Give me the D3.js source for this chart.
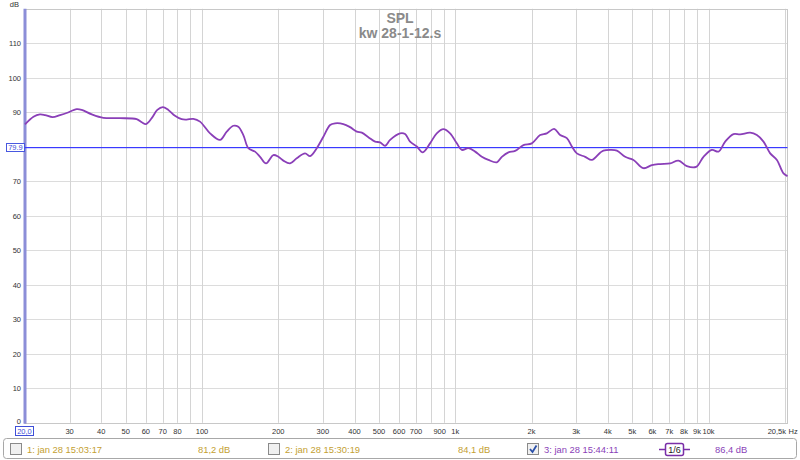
<!DOCTYPE html>
<html><head><meta charset="utf-8">
<script src="https://cdn.jsdelivr.net/npm/d3@7"></script>
<style>body{margin:0;background:#fff}svg{display:block;font-family:"Liberation Sans",Arial,sans-serif}</style>
</head><body><svg id="c" width="800" height="460"></svg>
<script>
const freqs = [20,21.6,22.9,24.0,25.7,27.5,29.2,32.0,33.5,36.7,40.8,47.4,55.2,57.8,60.1,63.3,66.6,70.0,73.6,78.2,83.1,87.0,92.4,98.2,107.6,117.8,125.2,132.9,139.1,145.6,152.4,161.9,169.5,179.0,191.3,200.2,209.4,222.6,236.6,255.2,267.2,283.8,301.4,320.4,335.2,361.4,384.2,408.4,427.4,453.8,482.4,504.8,528.4,553,605.4,633.6,663,704.8,744.2,795,845,898,954,1014,1061,1127,1198,1273,1351,1459,1527,1621,1723,1858,2006,2163,2298,2456,2594,2757,2886,3020,3256,3462,3733,3846,4088,4346,4686,5054,5534,5974,6442,7054,7608,8212,8936,9550,10308,10942,11632,12546,13336,14602,15518,16480,17514,18618,19766,20500];
const spl = [86.5,88.7,89.4,89.2,88.6,89.2,89.8,90.9,90.7,89.4,88.4,88.3,88.0,87.1,86.6,88.3,90.7,91.5,90.7,89.0,88.0,87.9,88.1,87.3,83.9,82.0,84.4,86.1,85.8,83.4,79.6,78.6,77.1,75.2,77.6,77.1,76.0,75.2,76.7,78.1,77.3,79.6,82.9,86.3,86.8,86.6,85.7,84.4,84.1,82.8,81.5,81.3,80.3,82.0,83.9,83.7,81.5,80.1,78.4,81.0,83.9,85.1,83.9,81.0,79.1,79.6,78.6,77.1,76.2,75.5,77.1,78.4,78.8,80.5,81.0,83.4,83.9,85.2,83.4,82.5,80.1,78.1,77.1,76.2,78.3,78.9,79.1,78.9,77.1,76.2,73.8,74.7,75.0,75.2,76.0,74.4,74.2,77.1,79.1,78.6,81.5,83.7,83.6,84.1,83.4,81.5,78.1,76.2,72.3,71.5];
const yTicks = [10,20,30,40,50,60,70,80,90,100,110];
const yLabels = [10,20,30,40,50,60,70,90,100,110];
const xGrid = [30,40,50,60,70,80,90,100,200,300,400,500,600,700,800,900,1000,2000,3000,4000,5000,6000,7000,8000,9000,10000,20000];
const xLabels = [[30,"30"],[40,"40"],[50,"50"],[60,"60"],[70,"70"],[80,"80"],[100,"100"],[200,"200"],[300,"300"],[400,"400"],[500,"500"],[600,"600"],[700,"700"],[900,"900"],[1000,"1k"],[2000,"2k"],[3000,"3k"],[4000,"4k"],[5000,"5k"],[6000,"6k"],[7000,"7k"],[8000,"8k"],[9000,"9k"],[10000,"10k"]];
const refLevel = 79.9, refLabel = "79.9";
const titles = ["SPL","kw 28-1-12.s"];
const legendItems = [
  {label:"1: jan 28 15:03:17", level:"81,2 dB", checked:false, color:"#c4a032"},
  {label:"2: jan 28 15:30:19", level:"84,1 dB", checked:false, color:"#c4a032"},
  {label:"3: jan 28 15:44:11", level:"86,4 dB", checked:true, color:"#8a3fb8"}
];

const svg = d3.select("#c");
const L=25, R=787.5, T=8.8, B=422.8;
const x = d3.scaleLog().domain([20,20500]).range([L,R]);
const y = d3.scaleLinear().domain([0,120]).range([B,T]);
const FS = 7.5;

// grid
svg.append("g").selectAll("line").data(yTicks).join("line")
  .attr("x1",L).attr("x2",R).attr("y1",d=>Math.round(y(d))+0.5).attr("y2",d=>Math.round(y(d))+0.5)
  .attr("stroke","#dcdcdc").attr("stroke-width",1);
svg.append("g").selectAll("line").data(xGrid).join("line")
  .attr("x1",d=>Math.round(x(d))+0.5).attr("x2",d=>Math.round(x(d))+0.5).attr("y1",T).attr("y2",B)
  .attr("stroke","#d4d4d4").attr("stroke-width",1);
// frame
svg.append("rect").attr("x",L).attr("y",Math.round(T)+0.5).attr("width",R-L).attr("height",Math.round(B)-Math.round(T))
  .attr("fill","none").attr("stroke","#c8c8c8");
svg.append("line").attr("x1",L).attr("x2",L).attr("y1",T).attr("y2",B+1)
  .attr("stroke","#8c8ed8").attr("stroke-width",3);

// y labels
svg.append("g").selectAll("text").data(yLabels).join("text")
  .attr("x",21).attr("y",d=>y(d)+3).attr("text-anchor","end")
  .attr("font-size",FS).attr("fill","#333").text(d=>d);
svg.append("text").attr("x",21).attr("y",B+1).attr("text-anchor","end").attr("font-size",FS).attr("fill","#333").text("0");
svg.append("text").attr("x",19).attr("y",7).attr("text-anchor","end").attr("font-size",FS).attr("fill","#333").text("dB");

// x labels
svg.append("g").selectAll("text").data(xLabels).join("text")
  .attr("x",d=>x(d[0]) - (d[0]===900 ? 4 : 0)).attr("y",434).attr("text-anchor","middle")
  .attr("font-size",FS).attr("fill","#333").text(d=>d[1]);
svg.append("rect").attr("x",15.5).attr("y",426.5).attr("width",18).attr("height",9).attr("fill","#fff").attr("stroke","#3f4fd8");
svg.append("text").attr("x",24.5).attr("y",434).attr("text-anchor","middle").attr("font-size",FS).attr("fill","#3f4fd8").text("20,0");
svg.append("text").attr("x",786).attr("y",434).attr("text-anchor","end").attr("font-size",FS).attr("fill","#333").text("20,5k");
svg.append("text").attr("x",788.5).attr("y",434).attr("font-size",FS).attr("fill","#333").text("Hz");

// reference level
svg.append("rect").attr("x",L).attr("y",Math.round(y(refLevel))).attr("width",R-L).attr("height",1.2)
  .attr("fill","#3a3aff");
svg.append("rect").attr("x",6.5).attr("y",Math.round(y(refLevel))-3.5).attr("width",18).attr("height",8).attr("fill","#fff").attr("stroke","#4858e0");
svg.append("text").attr("x",15.5).attr("y",y(refLevel)+3).attr("text-anchor","middle").attr("font-size",FS).attr("fill","#3f4fd8").text(refLabel);

// curve
const data = freqs.map((f,i)=>[f,spl[i]]);
svg.append("path").datum(data)
  .attr("d",d3.line().x(d=>x(d[0])).y(d=>y(d[1])).curve(d3.curveCatmullRom.alpha(0.5)))
  .attr("fill","none").attr("stroke","#8a3fb8").attr("stroke-width",1.8);

// titles
svg.append("text").attr("x",400).attr("y",23).attr("text-anchor","middle").attr("font-size",14).attr("font-weight","bold").attr("fill","#8a8a8a").text(titles[0]);
svg.append("text").attr("x",400).attr("y",38).attr("text-anchor","middle").attr("font-size",14).attr("font-weight","bold").attr("fill","#8a8a8a").text(titles[1]);

// legend
svg.append("rect").attr("x",3.5).attr("y",438.5).attr("width",793).attr("height",20).attr("rx",3)
  .attr("fill","#fff").attr("stroke","#a8a8a8");
const lx = [{cb:10,t:27,lv:198},{cb:268,t:285,lv:458},{cb:527,t:544,lv:715}];
legendItems.forEach((it,i)=>{
  const p = lx[i];
  svg.append("rect").attr("x",p.cb+0.5).attr("y",443.5).attr("width",11).attr("height",11)
    .attr("fill","#f0f0f0").attr("stroke","#8a8a8a");
  if(it.checked){
    svg.append("path").attr("d",`M${p.cb+3},${449} L${p.cb+5.5},${452} L${p.cb+9.5},${445.5}`)
      .attr("fill","none").attr("stroke","#2a4fa8").attr("stroke-width",1.8);
  }
  svg.append("text").attr("x",p.t).attr("y",453).attr("font-size",9.4).attr("fill",it.color).text(it.label);
  svg.append("text").attr("x",p.lv).attr("y",453).attr("font-size",9.4).attr("fill",it.color).text(it.level);
});
// smoothing indicator
svg.append("line").attr("x1",659).attr("x2",690).attr("y1",449.5).attr("y2",449.5).attr("stroke","#7a2fa8").attr("stroke-width",1.5);
svg.append("rect").attr("x",665.5).attr("y",443.5).attr("width",18).attr("height",12).attr("rx",2).attr("fill","#fff").attr("stroke","#7a2fa8").attr("stroke-width",1.5);
svg.append("text").attr("x",674.5).attr("y",453).attr("text-anchor","middle").attr("font-size",9).attr("fill","#222").text("1/6");
</script>
</body></html>
